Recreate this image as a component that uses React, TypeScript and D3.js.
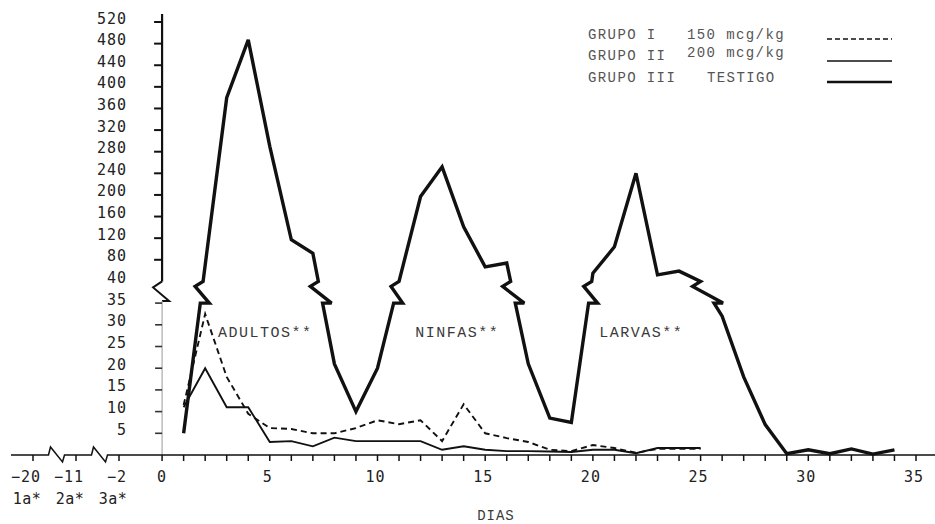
import React from "react";
import * as d3 from "d3";

// ---- data ----
const diasTestigo = [1,2,3,4,5,6,7,8,9,10,11,12,13,14,15,16,17,18,19,20,21,22,23,24,25,26,27,28,29,30,31,32,33,34];
const testigo = [5,70,380,487,290,117,92,21,10,20,40,197,252,141,67,74,21,8.5,7.5,55,104,240,52,59,40,32,18,7,0.3,1.2,0.3,1.4,0.2,1.2];
const diasGrupos = [1,2,3,4,5,6,7,8,9,10,11,12,13,14,15,16,17,18,19,20,21,22,23,24,25];
const grupoI = [11.5,32.5,18,9.5,6.2,6,5,5,6.2,8,7.1,8,3.2,11.7,5,3.9,3,1.2,0.9,2.3,1.6,0.5,1.4,1.4,1.4];
const grupoII = [11,20,11,11,3,3.2,2,4,3.2,3.2,3.2,3.2,1.2,2,1.2,0.9,0.9,0.8,0.7,1.2,1.2,0.4,1.6,1.6,1.6];

const yTicksBajo = [5,10,15,20,25,30,35];
const yTicksAlto = [40,80,120,160,200,240,280,320,360,400,440,480,520];
const xTicksNeg = [-20,-11,-2];
const xTicksDias = [0,1,2,3,4,5,6,7,8,9,10,11,12,13,14,15,16,17,18,19,20,21,22,23,24,25,26,27,28,29,30,31,32,33,34,35];
const xLabels = [0,5,10,15,20,25,30,35];
const aplicaciones = ["1a*","2a*","3a*"];
const etapas = ["ADULTOS**","NINFAS**","LARVAS**"];
const etapaDia = [2.6,11.75,20.3];
const etapaValor = 28;
const legendLabels = ["GRUPO I","GRUPO II","GRUPO III"];
const legendDosis = ["150 mcg/kg","200 mcg/kg","TESTIGO"];

// ---- layout ----
const W = 935, H = 524;
const x = d3.scaleLinear().domain([-20, -11, -2, 35]).range([33, 76, 119, 916]);
const y = d3.scaleLinear().domain([0, 40, 520]).range([455, 281.4, 22]);
const BREAK_LO = 35, BREAK_HI = 40;
const mono = "'DejaVu Sans Mono', 'Liberation Mono', monospace";
const typew = "'Liberation Mono', 'DejaVu Sans Mono', monospace";
const ink = "#111";
const textInk = "#3a3a3a";

function brokenPath(days: number[], vals: number[]) {
  const p = d3.path();
  const yT = y(BREAK_HI), yB = y(BREAK_LO);
  for (let i = 0; i < days.length; i++) {
    const x2 = x(days[i]), y2 = y(vals[i]);
    if (i === 0) { p.moveTo(x2, y2); continue; }
    const v1 = vals[i - 1], v2 = vals[i];
    const x1 = x(days[i - 1]), y1 = y(v1);
    if (Math.min(v1, v2) < BREAK_LO && Math.max(v1, v2) >= BREAK_HI) {
      const xt = x1 + (x2 - x1) * (yT - y1) / (y2 - y1);
      const xb = x1 + (x2 - x1) * (yB - y1) / (y2 - y1);
      if (v2 > v1) {
        p.lineTo(xb, yB); p.lineTo(xb + 9, yB); p.lineTo(xt - 8, yT + 5); p.lineTo(xt, yT);
      } else {
        p.lineTo(xt, yT); p.lineTo(xt - 8, yT + 5); p.lineTo(xb + 9, yB); p.lineTo(xb, yB);
      }
    }
    p.lineTo(x2, y2);
  }
  return p.toString();
}

export default function App() {
  const lineGen = d3.line<[number, number]>().x(d => x(d[0])).y(d => y(d[1]));
  const gI = lineGen(diasGrupos.map((d, i) => [d, grupoI[i]]))!;
  const gII = lineGen(diasGrupos.map((d, i) => [d, grupoII[i]]))!;
  const gIII = brokenPath(diasTestigo, testigo);

  const x0 = x(0);
  const yT = y(BREAK_HI), yB = y(BREAK_LO);
  const y0 = y(0);
  const brk1 = (x(-20) + x(-11)) / 2 + 2;
  const brk2 = (x(-11) + x(-2)) / 2 + 2;
  const xAxisPath = `M11,${y0} L${brk1 - 8},${y0} L${brk1 - 6},${y0 - 8} L${brk1 + 6},${y0 + 7} L${brk1 + 8},${y0} L${brk2 - 8},${y0} L${brk2 - 6},${y0 - 8} L${brk2 + 6},${y0 + 7} L${brk2 + 8},${y0} L${W},${y0}`;

  const legendX = 588, legendDoseX = [687, 687, 707];
  const legendY = [35, 56, 78];
  const legendLineY = [39, 61, 82];
  const legendDoseDy = [0, -3, 0];

  return (
    <svg width={W} height={H} style={{ position: "absolute", left: 0, top: 0, background: "#fff" }}>
      <rect x={0} y={0} width={W} height={H} fill="#fff" />
      {/* y axis upper */}
      <line x1={x0} x2={x0} y1={14} y2={yT} stroke={ink} strokeWidth={2.2} />
      <path d={`M${x0},${yT} L${x0 - 9},${yT + 6} L${x0 + 7},${yB - 2} L${x0},${yB - 2}`} fill="none" stroke={ink} strokeWidth={2} />
      <line x1={x0} x2={x0} y1={yB - 2} y2={y0} stroke="#999" strokeWidth={1} />
      {yTicksAlto.filter(t => t !== BREAK_HI).map(t => (
        <line key={"ta" + t} x1={x0 - 8} x2={x0} y1={y(t)} y2={y(t)} stroke={ink} strokeWidth={2} />
      ))}
      {yTicksBajo.map(t => (
        <line key={"tb" + t} x1={x0 - 7} x2={x0} y1={y(t)} y2={y(t)} stroke="#333" strokeWidth={1.6} />
      ))}
      {[...yTicksBajo, ...yTicksAlto].map(t => (
        <text key={"yl" + t} x={127} y={y(t) - 3} textAnchor="end" dominantBaseline="middle"
          fontFamily={mono} fontSize={15} letterSpacing={1} fill="#222">{t}</text>
      ))}

      {/* x axis */}
      <path d={xAxisPath} fill="none" stroke={ink} strokeWidth={1.5} />
      {[...xTicksNeg, ...xTicksDias].map(t => (
        <line key={"xt" + t} x1={x(t)} x2={x(t)} y1={y0} y2={y0 + 6} stroke={ink} strokeWidth={1.5} />
      ))}
      {xTicksNeg.map(t => (
        <text key={"xn" + t} x={x(t) + 8} y={477} textAnchor="end" dominantBaseline="middle"
          fontFamily={mono} fontSize={15} letterSpacing={1} fill="#222">{"\u2212" + Math.abs(t)}</text>
      ))}
      {xLabels.map(t => (
        <text key={"xl" + t} x={x(t) - (t === 0 ? 0 : 2)} y={477} textAnchor="middle" dominantBaseline="middle"
          fontFamily={mono} fontSize={15} letterSpacing={1} fill="#222">{t}</text>
      ))}
      {aplicaciones.map((a, i) => (
        <text key={a} x={x(xTicksNeg[i]) - 6} y={499} textAnchor="middle" dominantBaseline="middle"
          fontFamily={mono} fontSize={15} letterSpacing={0.5} fill="#222">{a}</text>
      ))}
      <text x={x(15.5)} y={516} textAnchor="middle" dominantBaseline="middle"
        fontFamily={typew} fontSize={14} letterSpacing={1} fill={textInk}>DIAS</text>

      {/* series */}
      <path d={gIII} fill="none" stroke={ink} strokeWidth={3.4} strokeLinejoin="miter" strokeMiterlimit={3} />
      <path d={gII} fill="none" stroke={ink} strokeWidth={1.9} />
      <path d={gI} fill="none" stroke={ink} strokeWidth={1.9} strokeDasharray="6,4" />

      {/* annotations */}
      {etapas.map((e, i) => (
        <text key={e} x={x(etapaDia[i])} y={y(etapaValor)} dominantBaseline="middle"
          fontFamily={typew} fontSize={15} letterSpacing={1.5} fill={textInk}>{e}</text>
      ))}

      {/* legend */}
      {legendLabels.map((l, i) => (
        <g key={l}>
          <text x={legendX} y={legendY[i]} dominantBaseline="middle" fontFamily={typew} fontSize={14}
            letterSpacing={1.4} fill="#555">{l}</text>
          <text x={legendDoseX[i]} y={legendY[i] + legendDoseDy[i]} dominantBaseline="middle" fontFamily={typew}
            fontSize={14} letterSpacing={1.4} fill="#555">{legendDosis[i]}</text>
        </g>
      ))}
      <line x1={827} x2={892} y1={legendLineY[0]} y2={legendLineY[0]} stroke={ink} strokeWidth={1.5} strokeDasharray="5,3" />
      <line x1={827} x2={892} y1={legendLineY[1]} y2={legendLineY[1]} stroke={ink} strokeWidth={1.6} />
      <line x1={827} x2={892} y1={legendLineY[2]} y2={legendLineY[2]} stroke={ink} strokeWidth={2.6} />
    </svg>
  );
}
